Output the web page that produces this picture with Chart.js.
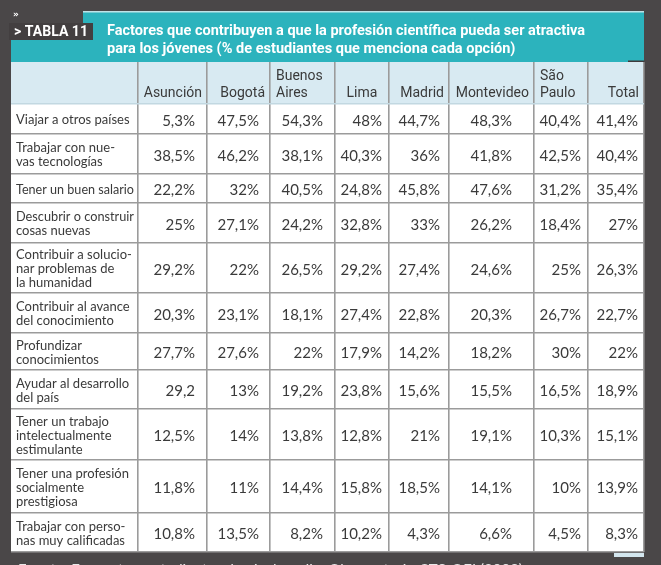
<!DOCTYPE html>
<html>
<head>
<meta charset="utf-8">
<script src="https://cdn.jsdelivr.net/npm/chart.js@4.4.1/dist/chart.umd.min.js"></script>
<style>
  html, body { margin: 0; padding: 0; background: #4a4748; }
  #wrap { width: 661px; height: 565px; }
</style>
</head>
<body>
<div id="wrap"><canvas id="tabla"></canvas></div>
<script>
// --- data ---
const columns = ['Asunción', 'Bogotá', 'Buenos\nAires', 'Lima', 'Madrid', 'Montevideo', 'São\nPaulo', 'Total'];
const factors = [
  'Viajar a otros países',
  'Trabajar con nue-\nvas tecnologías',
  'Tener un buen salario',
  'Descubrir o construir\ncosas nuevas',
  'Contribuir a solucio-\nnar problemas de\nla humanidad',
  'Contribuir al avance\ndel conocimiento',
  'Profundizar\nconocimientos',
  'Ayudar al desarrollo\ndel país',
  'Tener un trabajo\nintelectualmente\nestimulante',
  'Tener una profesión\nsocialmente\nprestigiosa',
  'Trabajar con perso-\nnas muy calificadas'
];
const asuncion    = [5.3, 38.5, 22.2, 25, 29.2, 20.3, 27.7, 29.2, 12.5, 11.8, 10.8];
const bogota      = [47.5, 46.2, 32, 27.1, 22, 23.1, 27.6, 13, 14, 11, 13.5];
const buenosAires = [54.3, 38.1, 40.5, 24.2, 26.5, 18.1, 22, 19.2, 13.8, 14.4, 8.2];
const lima        = [48, 40.3, 24.8, 32.8, 29.2, 27.4, 17.9, 23.8, 12.8, 15.8, 10.2];
const madrid      = [44.7, 36, 45.8, 33, 27.4, 22.8, 14.2, 15.6, 21, 18.5, 4.3];
const montevideo  = [48.3, 41.8, 47.6, 26.2, 24.6, 20.3, 18.2, 15.5, 19.1, 14.1, 6.6];
const saoPaulo    = [40.4, 42.5, 31.2, 18.4, 25, 26.7, 30, 16.5, 10.3, 10, 4.5];
const total       = [41.4, 40.4, 35.4, 27, 26.3, 22.7, 22, 18.9, 15.1, 13.9, 8.3];
const series = [asuncion, bogota, buenosAires, lima, madrid, montevideo, saoPaulo, total];
const noPercent = [[7, 0]]; // printed as "29,2" in the original

const titleLines = [
  'Factores que contribuyen a que la profesión científica pueda ser atractiva',
  'para los jóvenes (% de estudiantes que menciona cada opción)'
];
const tableLabel = '> TABLA 11';
const sourceNote = 'Fuente: Encuesta a estudiantes de nivel medio, Observatorio CTS-OEI (2009).';

// --- layout ---
const colWidths = [127, 69, 63, 65, 54, 60, 85, 54, 56];
const rowHeights = [42, 30, 40, 29, 40, 50, 40, 37, 39, 51, 53, 39];
const headerAlign = ['right', 'right', 'left', 'center', 'right', 'right', 'left', 'right'];
const valuePad = [12, 11, 12, 7, 9, 22, 7, 6];

const edges = arr => arr.reduce((acc, w) => { acc.push(acc[acc.length - 1] + w); return acc; }, [0]);
const xEdges = edges(colWidths);
const yEdges = edges(rowHeights);

const fmt = (v, r, c) => {
  const s = String(v).replace('.', ',');
  return noPercent.some(p => p[0] === r && p[1] === c) ? s : s + '%';
};

const tablePlugin = {
  id: 'tabla',
  beforeDraw(chart) {
    const { ctx, chartArea: a, scales: { y } } = chart;
    const headBottom = y.getPixelForValue(yEdges[1]);
    ctx.save();
    ctx.fillStyle = '#4a4748';
    ctx.fillRect(0, 0, chart.width, chart.height);
    // teal title band
    ctx.fillStyle = '#2cb3bd';
    ctx.fillRect(83, 12, a.right - 83, a.top - 12);
    ctx.fillRect(a.left, 40, 90 - a.left, a.top - 40);
    ctx.fillStyle = '#bfe3e8';
    ctx.fillRect(83, 11, a.right - 83, 1.5);
    ctx.fillStyle = '#433f40';
    ctx.fillRect(9, 23, 84, 17);
    ctx.fillStyle = '#3e3a3b';
    ctx.fillRect(a.right - 16, a.top - 1.5, 16, 1.5);
    // body + header backgrounds
    ctx.fillStyle = '#ffffff';
    ctx.fillRect(a.left, headBottom, a.width, a.bottom - headBottom);
    ctx.fillStyle = '#d8eaf2';
    ctx.fillRect(a.left, a.top, a.width, headBottom - a.top);
    ctx.fillStyle = '#d3e6ee';
    ctx.fillRect(a.right - 30, a.bottom + 1, 30, 4);
    ctx.restore();
  },
  afterDraw(chart) {
    const { ctx, chartArea: a, scales: { x, y } } = chart;
    ctx.save();
    // title block
    ctx.fillStyle = '#ffffff';
    ctx.textBaseline = 'middle';
    ctx.font = 'bold 9px "DejaVu Sans"';
    ctx.fillText('»', 13, 15);
    ctx.font = 'bold 15px Roboto';
    const tw = ctx.measureText(tableLabel).width;
    ctx.save();
    ctx.translate(14, 32);
    ctx.scale(74 / tw, 1);
    ctx.fillText(tableLabel, 0, 0);
    ctx.restore();
    const k = 478 / ctx.measureText(titleLines[0]).width;
    titleLines.forEach((line, i) => {
      ctx.save();
      ctx.translate(107, 31 + i * 18);
      ctx.scale(k, 1);
      ctx.fillText(line, 0, 0);
      ctx.restore();
    });
    // header labels
    ctx.fillStyle = '#3a3a3a';
    ctx.font = '14px Roboto';
    columns.forEach((label, c) => {
      const l = x.getPixelForValue(xEdges[c + 1]);
      const r = x.getPixelForValue(xEdges[c + 2]);
      const lines = label.split('\n');
      ctx.textAlign = headerAlign[c];
      const px = headerAlign[c] === 'left' ? l + 6 : headerAlign[c] === 'center' ? (l + r) / 2 : r - 5;
      lines.forEach((ln, i) => {
        ctx.fillText(ln, px, 93 - (lines.length - 1 - i) * 17);
      });
    });
    // row labels
    ctx.font = '13px Lato';
    ctx.textAlign = 'left';
    const labelMax = x.getPixelForValue(xEdges[1]) - a.left - 9;
    factors.forEach((label, r) => {
      const top = y.getPixelForValue(yEdges[r + 1]);
      const bot = y.getPixelForValue(yEdges[r + 2]);
      const mid = (top + bot) / 2 + 1;
      const lines = label.split('\n');
      lines.forEach((ln, i) => {
        ctx.fillText(ln, a.left + 5, mid + (i - (lines.length - 1) / 2) * 14, labelMax);
      });
    });
    // values
    ctx.font = '15px Lato';
    ctx.textAlign = 'right';
    series.forEach((vals, c) => {
      const right = x.getPixelForValue(xEdges[c + 2]);
      vals.forEach((v, r) => {
        const top = y.getPixelForValue(yEdges[r + 1]);
        const bot = y.getPixelForValue(yEdges[r + 2]);
        ctx.fillText(fmt(v, r, c), right - valuePad[c], (top + bot) / 2 + 2);
      });
    });
    // source note, cut off at the bottom edge
    ctx.fillStyle = '#e8e8e8';
    ctx.textAlign = 'left';
    ctx.textBaseline = 'alphabetic';
    ctx.font = '15px Lato';
    ctx.fillText(sourceNote, 18, 575);
    ctx.restore();
  }
};

const gridColor = (c, isY) => {
  if (c.index === 0) return 'rgba(0,0,0,0)';
  if (isY && c.index === 1) return '#c2d8e1';
  return '#9b9b9b';
};

new Chart(document.getElementById('tabla'), {
  type: 'scatter',
  data: { datasets: [] },
  options: {
    responsive: true,
    maintainAspectRatio: false,
    animation: false,
    devicePixelRatio: 1,
    layout: { padding: { left: 11, right: 17, top: 62, bottom: 13 } },
    plugins: { legend: { display: false }, tooltip: { enabled: false } },
    scales: {
      x: {
        type: 'linear',
        min: 0,
        max: xEdges[xEdges.length - 1],
        afterBuildTicks: s => { s.ticks = xEdges.map(v => ({ value: v })); },
        ticks: { display: false },
        border: { display: false },
        grid: { drawTicks: false, lineWidth: 1.6, color: c => gridColor(c, false) }
      },
      y: {
        type: 'linear',
        reverse: true,
        min: 0,
        max: yEdges[yEdges.length - 1],
        afterBuildTicks: s => { s.ticks = yEdges.map(v => ({ value: v })); },
        ticks: { display: false },
        border: { display: false },
        grid: { drawTicks: false, lineWidth: 1.6, color: c => gridColor(c, true) }
      }
    }
  },
  plugins: [tablePlugin]
});
</script>
</body>
</html>
